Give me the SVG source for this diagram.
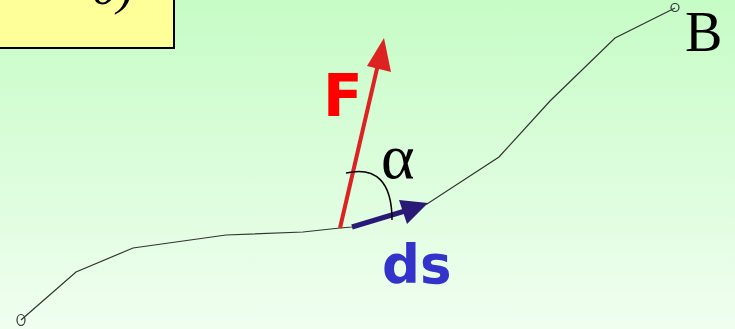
<svg xmlns="http://www.w3.org/2000/svg" width="735" height="329" viewBox="0 0 735 329">
<defs>
<linearGradient id="bg" x1="0" y1="0" x2="0" y2="1">
<stop offset="0" stop-color="#c6fcc6"/>
<stop offset="1" stop-color="#f0fef0"/>
</linearGradient>
<style>
.path{fill:none;stroke:#333;stroke-width:1.2}
.pt{fill:none;stroke:#333;stroke-width:1.2}
.lbl{font-family:"DejaVu Sans",sans-serif;font-weight:bold}
.serif{font-family:"Liberation Serif","Times New Roman",serif}
</style>
</defs>
<rect width="735" height="329" fill="url(#bg)"/>
<g id="formula-box">
<rect x="-10" y="-10" width="184" height="58" fill="#ffff99" stroke="#000" stroke-width="2"/>
<text class="serif" x="92" y="4" font-size="50" font-style="italic">0)</text>
</g>
<g id="connectors">
<polyline class="path" points="21,320 76,272 133,248 226,235 303,232 340,228 352,227 427,204 499,157 550,101 615,38 675,8"/>
<path d="M340,228 L379,60" stroke="#dd2222" stroke-width="4" fill="none"/>
<polygon points="384,38 367,66 391,72" fill="#dd2222"/>
<path d="M352,227 L405,211" stroke="#2a1a78" stroke-width="5" fill="none"/>
<polygon points="428,203 399,200 407,224" fill="#2a1a78"/>
<path d="M346,173 C376,166 392,182 392,220" fill="none" stroke="#000" stroke-width="1.5"/>
</g>
<g id="A">
<ellipse class="pt" cx="21" cy="320" rx="4" ry="5.5"/>
</g>
<g id="B">
<circle class="pt" cx="675" cy="7.5" r="4"/>
<text class="serif" x="685" y="51" font-size="56">B</text>
</g>
<g id="F-label">
<text class="lbl" x="323" y="116" font-size="58" fill="#ff0000">F</text>
</g>
<g id="alpha">
<text class="serif" x="381" y="178" font-size="64">α</text>
</g>
<g id="ds-label">
<text class="lbl" x="382" y="283" font-size="53" fill="#3333cc">ds</text>
</g>
</svg>
